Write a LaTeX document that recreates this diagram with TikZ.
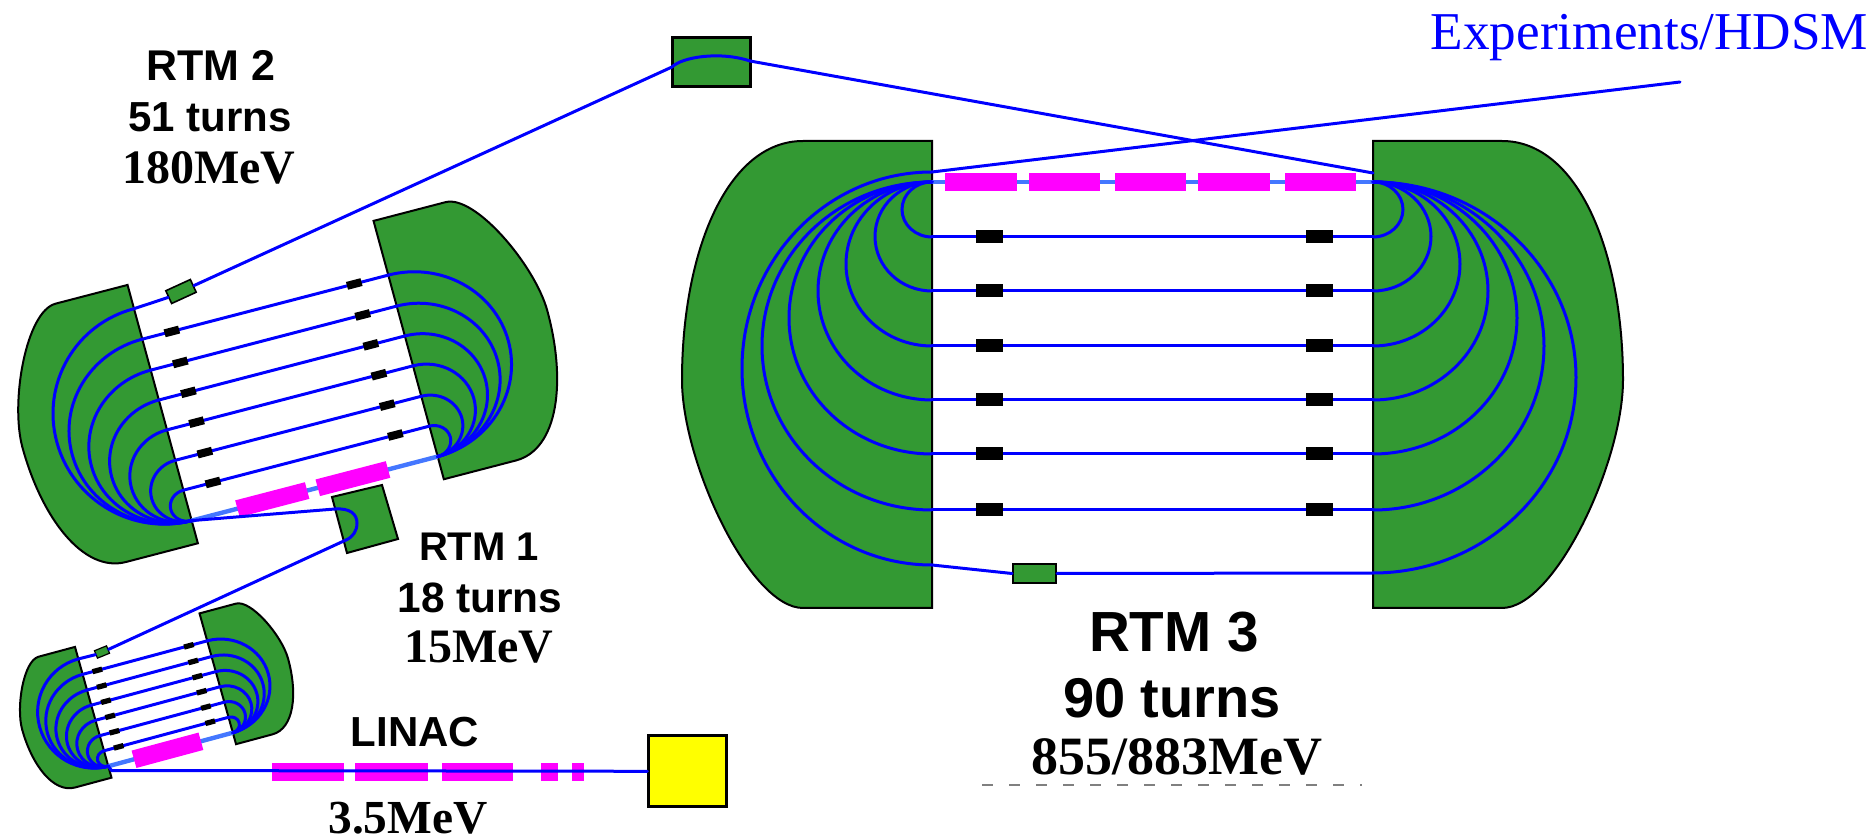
\documentclass[tikz,border=0pt]{standalone}
\usepackage{fontspec}
\setmainfont{Liberation Serif}
\setsansfont{Liberation Sans}
\definecolor{magnetgreen}{HTML}{339933}
\definecolor{beamblue}{HTML}{0000FF}
\definecolor{mainblue}{HTML}{4477FF}
\definecolor{rfmagenta}{HTML}{FF00FF}
\definecolor{gunyellow}{HTML}{FFFF00}
\tikzset{
  beam/.style={draw=beamblue,line width=1.5pt,line cap=round},
  mainbeam/.style={draw=mainblue,line width=2.2pt},
  magnet/.style={fill=magnetgreen,draw=black,line width=1pt,line join=miter},
  rfpart/.style={fill=rfmagenta,draw=none},
  quad/.style={fill=black,draw=none},
  greenbox/.style={rectangle,fill=magnetgreen,draw=black,inner sep=0pt},
  sanslabel/.style={anchor=base,inner sep=0pt,font=\sffamily\bfseries},
  seriflabel/.style={anchor=base,inner sep=0pt,font=\rmfamily\bfseries},
}
% semi-ellipse between (x0,y1) and (x0,y0) bulging by r towards -x
\newcommand{\uarc}[4]{%
  \pgfmathsetmacro{\um}{(#3+#4)/2}%
  \pgfmathsetmacro{\uh}{0.5523*(#4-#3)/2}%
  \pgfmathsetmacro{\ux}{#1-#2}%
  \pgfmathsetmacro{\uc}{#1-0.5523*#2}%
  \pgfmathsetmacro{\uu}{\um+\uh}%
  \pgfmathsetmacro{\ud}{\um-\uh}%
  \draw[beam] (#1,#4) .. controls (\uc,#4) and (\ux,\uu) .. (\ux,\um)
     .. controls (\ux,\ud) and (\uc,#3) .. (#1,#3);%
}
\newcommand{\magnets}{%
  \path[magnet] (0,-41) -- (-129,-41) .. controls (-205,-41) and (-250,70) .. (-250,198)
     .. controls (-250,280) and (-182,426) .. (-129,426) -- (0,426) -- cycle;
  \path[magnet] (441,-41) -- (570,-41) .. controls (646,-41) and (691,70) .. (691,198)
     .. controls (691,280) and (623,426) .. (570,426) -- (441,426) -- cycle;
  \draw[mainbeam] (0,0) -- (441,0);
}
\newcommand{\rfblock}[4]{\path[rfpart] (#1,#3) -- (#2,#3) -- (#2,#4) -- (#1,#4) -- cycle;}
% common six return paths; #1 half width, #2 half height, #3 and #4 positions of the quadrupoles
\newcommand{\returns}[4]{%
  \foreach \yy/\rl/\rr in {55/30/-30,109/57/-58,164/86/-87,218/114/-115,272/143/-144,328/170/-171}{%
    \uarc{0}{\rl}{0}{\yy}
    \uarc{441}{\rr}{0}{\yy}
    \draw[beam] (0,\yy) -- (441,\yy);
  }
  \foreach \yy in {55,109,164,218,272,328}{%
    \foreach \xx in {#3,#4}{%
      \pgfmathsetmacro{\qa}{\xx-#1}\pgfmathsetmacro{\qb}{\xx+#1}%
      \pgfmathsetmacro{\qc}{\yy-#2}\pgfmathsetmacro{\qd}{\yy+#2}%
      \path[quad] (\qa,\qc) -- (\qb,\qc) -- (\qb,\qd) -- (\qa,\qd) -- cycle;
    }
  }
}
\begin{document}
\begin{tikzpicture}[x=0.5pt,y=-0.5pt]
\useasboundingbox (0,0) rectangle (1876,839);

% ---------- RTM 3
\begin{scope}[shift={(932,182)},x={(0.5pt,0pt)},y={(0pt,-0.5pt)}]
  \magnets
  \rfblock{13}{85}{-8.5}{9.5}
  \rfblock{97}{168}{-8.5}{9.5}
  \rfblock{183}{254}{-8.5}{9.5}
  \rfblock{266}{338}{-8.5}{9.5}
  \rfblock{353}{424}{-8.5}{9.5}
  \returns{13.5}{6.5}{57}{387}
  \uarc{0}{190}{-10}{383}
  \uarc{441}{-203}{0}{391}
  \coordinate (r3exit) at (0,-10);
  \coordinate (r3in) at (441,-9);
  \coordinate (r3l) at (0,383);
  \coordinate (r3r) at (441,391);
\end{scope}

% ---------- RTM 2
\begin{scope}[shift={(191.7,520.6)},x={(0.2789pt,0.0726pt)},y={(-0.0753pt,0.2766pt)}]
  \magnets
  \rfblock{82}{207}{-15}{15}
  \rfblock{226}{352}{-15}{15}
  \returns{13}{7}{53}{380}
  \uarc{0}{190}{0}{383}
  \coordinate (r2in) at (0,0);
  \coordinate (r2l) at (0,383);
\end{scope}

% ---------- RTM 1
\begin{scope}[shift={(108.3,766.2)},x={(0.1412pt,0.038pt)},y={(-0.0391pt,0.14pt)}]
  \magnets
  \rfblock{91}{328}{-31}{31}
  \returns{17}{9}{52}{376}
  \uarc{0}{190}{0}{383}
  \coordinate (r1in) at (0,0);
  \coordinate (r1l) at (0,383);
\end{scope}

% ---------- boxes
\node[greenbox,line width=1.5pt,minimum width=39pt,minimum height=24.5pt] (topbox) at (711,62.5) {};
\node[greenbox,line width=1pt,minimum width=21.5pt,minimum height=9.5pt] (r3box) at (1034.5,573.5) {};
\node[greenbox,line width=0.8pt,rotate=24.6,minimum width=13.5pt,minimum height=7pt] (r2box) at (181,291.5) {};
\node[greenbox,line width=0.6pt,rotate=22,minimum width=6.5pt,minimum height=4pt] (r1box) at (102,652) {};
\path[magnet] (332,497) -- (382,485) -- (398,539) -- (347,553) -- cycle;
\node[rectangle,fill=gunyellow,draw=black,line width=1.4pt,inner sep=0pt,minimum width=39pt,minimum height=35.5pt] (gun) at (687.8,771.3) {};

% ---------- linac
\coordinate (linacend) at (111.5,770.5);
\foreach \a/\b in {272/344,355/427.5,442/513,540.5/557.5,572/584}{
  \fill[rfmagenta] (\a,762.7) rectangle (\b,780.7);
}
\draw[beam] (linacend) -- (gun.west);
\draw[beam] (linacend) -- (r1in);

% ---------- transfer lines
\coordinate (expend) at (1680,82);
\coordinate (topa) at (672,67);
\coordinate (topb) at (750,61);
\coordinate (u1) at (335,509);
\coordinate (u2) at (357,523);
\coordinate (u3) at (346,540);
\draw[beam] (r3exit) -- (expend);
\draw[beam] (r3l) -- (r3box.west);
\draw[beam] (r3box.east) -- (r3r);
\draw[beam] (r2l) -- (r2box.west);
\draw[beam] (r2box.east) -- (topa);
\draw[beam] (topa) .. controls (682,57) and (720,51) .. (topb);
\draw[beam] (topb) -- (r3in);
\draw[beam] (r1l) -- (r1box.west);
\draw[beam] (r1box.east) -- (u3);
\draw[beam] (u3) .. controls (353,537) and (357,531) .. (u2) .. controls (357,514) and (350,508) .. (u1);
\draw[beam] (u1) -- (r2in);

% ---------- remnants under the RTM 3 label
\coordinate (dasha) at (982,785);
\coordinate (dashb) at (1362,785);
\draw[gray,line width=0.7pt,dash pattern=on 5.5pt off 8pt] (dasha) -- (dashb);

% ---------- labels
\node[anchor=base,inner sep=0pt,text=beamblue,font=\rmfamily\fontsize{26.6}{28}\selectfont] (exp) at (1649.5,50) {Experiments/HDSM};
\node[sanslabel,font=\sffamily\bfseries\fontsize{21.5}{23}\selectfont] (t2a) at (211,81) {RTM 2};
\node[sanslabel,font=\sffamily\bfseries\fontsize{21}{23}\selectfont] (t2b) at (210,132) {51 turns};
\node[seriflabel,font=\rmfamily\bfseries\fontsize{24}{25}\selectfont] (t2c) at (209,184) {180MeV};
\node[sanslabel,font=\sffamily\bfseries\fontsize{20}{21}\selectfont] (t1a) at (479,561) {RTM 1};
\node[sanslabel,font=\sffamily\bfseries\fontsize{21.2}{23}\selectfont] (t1b) at (480,613) {18 turns};
\node[seriflabel,font=\rmfamily\bfseries\fontsize{24}{25}\selectfont] (t1c) at (479,663) {15MeV};
\node[sanslabel,font=\sffamily\bfseries\fontsize{21}{22}\selectfont] (tla) at (415,747) {LINAC};
\node[seriflabel,font=\rmfamily\bfseries\fontsize{23.7}{25}\selectfont] (tlb) at (408,833) {3.5MeV};
\node[sanslabel,font=\sffamily\bfseries\fontsize{28.3}{30}\selectfont] (t3a) at (1174,652) {RTM 3};
\node[sanslabel,font=\sffamily\bfseries\fontsize{28}{30}\selectfont] (t3b) at (1172,718) {90 turns};
\node[seriflabel,font=\rmfamily\bfseries\fontsize{27}{28}\selectfont] (t3c) at (1177,775) {855/883MeV};
\end{tikzpicture}
\end{document}
